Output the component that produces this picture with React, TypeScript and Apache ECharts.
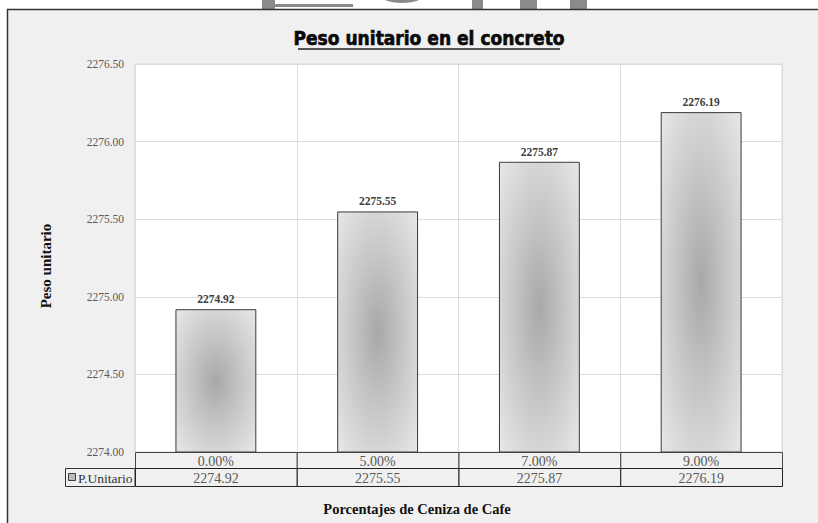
import React, { useEffect, useRef } from "react";
import * as echarts from "echarts";

const categories = ["0.00%", "5.00%", "7.00%", "9.00%"];
const pesoUnitario = [2274.92, 2275.55, 2275.87, 2276.19];
const seriesName = "P.Unitario";
const titleText = "Peso unitario en el concreto";
const yTitle = "Peso unitario";
const xTitle = "Porcentajes de Ceniza de Cafe";

const SERIF = "'Liberation Serif', 'DejaVu Serif', serif";

export default function App() {
  const ref = useRef<HTMLDivElement>(null);
  useEffect(() => {
    if (!ref.current) return;
    const chart = echarts.init(ref.current, null, { renderer: "svg" });
    const gridTop = 64;
    const gridBottom = 71;
    const H = 523;
    const baseOption: any = {
      animation: false,
      backgroundColor: "#ffffff",
      grid: {
        left: 135,
        right: 36,
        top: gridTop,
        bottom: gridBottom,
        show: true,
        backgroundColor: "#ffffff",
        borderColor: "#d9d9d9",
        borderWidth: 1,
      },
      xAxis: {
        type: "category",
        data: categories,
        axisLine: { show: false },
        axisTick: { show: false },
        axisLabel: { show: false },
        splitLine: { show: true, interval: 0, lineStyle: { color: "#dcdcdc", width: 1 } },
      },
      yAxis: {
        type: "value",
        min: 2274,
        max: 2276.5,
        interval: 0.5,
        axisLine: { show: false },
        axisTick: { show: false },
        axisLabel: {
          color: "#595959",
          fontFamily: SERIF,
          fontSize: 11.5,
          margin: 11,
          formatter: (v: number) => v.toFixed(2),
        },
        splitLine: { show: true, lineStyle: { color: "#dcdcdc", width: 1 } },
      },
      series: [
        {
          name: seriesName,
          type: "bar",
          data: pesoUnitario,
          barWidth: "50%",
          itemStyle: {
            color: {
              type: "radial",
              x: 0.5,
              y: 0.5,
              r: 0.66,
              colorStops: [
                { offset: 0, color: "#a8a8a8" },
                { offset: 0.45, color: "#c4c4c4" },
                { offset: 1, color: "#e4e4e4" },
              ],
            },
            borderColor: "#3a3a3a",
            borderWidth: 1,
          },
          label: {
            show: true,
            position: "top",
            distance: 4,
            fontFamily: SERIF,
            fontWeight: "bold",
            fontSize: 11.5,
            color: "#404040",
            formatter: (p: any) => Number(p.value).toFixed(2),
          },
        },
      ],
    };
    chart.setOption(baseOption);

    const centers = categories.map((c) => chart.convertToPixel({ xAxisIndex: 0 }, c) as number);
    const band = centers.length > 1 ? centers[1] - centers[0] : 160;

    const tableTop = H - gridBottom;
    const row1 = 16;
    const row2 = 18;
    const plotLeft = centers[0] - band / 2;
    const gray = "#8a8a8a";

    const graphics: any[] = [
      // watermark fragments above frame
      { type: "rect", z: -20, shape: { x: 262, y: 0, width: 13, height: 9 }, style: { fill: gray } },
      { type: "rect", z: -20, shape: { x: 275, y: 4, width: 78, height: 3 }, style: { fill: gray } },
      { type: "ellipse", z: -20, shape: { cx: 402, cy: -8, rx: 25, ry: 11 }, style: { fill: gray } },
      { type: "ellipse", z: -19, shape: { cx: 402, cy: -10, rx: 13, ry: 8 }, style: { fill: "#ffffff" } },
      { type: "rect", z: -20, shape: { x: 472, y: 0, width: 11, height: 9 }, style: { fill: gray } },
      { type: "rect", z: -20, shape: { x: 520, y: 0, width: 17, height: 9 }, style: { fill: gray } },
      { type: "rect", z: -20, shape: { x: 570, y: 0, width: 17, height: 9 }, style: { fill: gray } },
      // outer frame
      {
        type: "rect",
        z: -10,
        shape: { x: 7.5, y: 9.5, width: 830, height: 530 },
        style: { fill: "#f0f0f0", stroke: "#333333", lineWidth: 1.5 },
      },
      // title
      {
        type: "text",
        z: 10,
        x: 429,
        y: 38,
        style: {
          text: titleText,
          fill: "#0a0a0a",
          font: "900 19px 'DejaVu Sans Condensed', 'DejaVu Sans', sans-serif",
          align: "center",
          verticalAlign: "middle",
          stroke: "#0a0a0a",
          lineWidth: 0.6,
        },
      },
      {
        type: "line",
        z: 10,
        shape: { x1: 298, y1: 49, x2: 560, y2: 49 },
        style: { stroke: "#222222", lineWidth: 1.5 },
      },
      // axis titles
      {
        type: "text",
        z: 10,
        x: 46,
        y: 266,
        rotation: Math.PI / 2,
        style: {
          text: yTitle,
          fill: "#111111",
          font: `bold 15px ${SERIF}`,
          align: "center",
          verticalAlign: "middle",
        },
      },
      {
        type: "text",
        z: 10,
        x: 417,
        y: 509,
        style: {
          text: xTitle,
          fill: "#111111",
          font: `bold 14.5px ${SERIF}`,
          align: "center",
          verticalAlign: "middle",
        },
      },
      // legend cell of data table
      {
        type: "rect",
        z: 10,
        shape: { x: 65.5, y: tableTop + row1 + 0.5, width: plotLeft - 65.5, height: row2 },
        style: { fill: "none", stroke: "#333333", lineWidth: 1 },
      },
      {
        type: "rect",
        z: 11,
        shape: { x: 68.5, y: tableTop + row1 + 5.5, width: 7, height: 7 },
        style: { fill: "#bdbdbd", stroke: "#404040", lineWidth: 1 },
      },
      {
        type: "text",
        z: 11,
        x: 78,
        y: tableTop + row1 + row2 / 2 + 1,
        style: {
          text: seriesName,
          fill: "#333333",
          font: `13.5px ${SERIF}`,
          align: "left",
          verticalAlign: "middle",
        },
      },
    ];

    categories.forEach((c, i) => {
      const x0 = centers[i] - band / 2;
      graphics.push(
        {
          type: "rect",
          z: 10,
          shape: { x: x0 + 0.5, y: tableTop + 0.5, width: band, height: row1 },
          style: { fill: "#f0f0f0", stroke: "#444444", lineWidth: 1 },
        },
        {
          type: "rect",
          z: 10,
          shape: { x: x0 + 0.5, y: tableTop + row1 + 0.5, width: band, height: row2 },
          style: { fill: "#f0f0f0", stroke: "#222222", lineWidth: 1 },
        },
        {
          type: "text",
          z: 11,
          x: centers[i],
          y: tableTop + row1 / 2 + 1,
          style: {
            text: c,
            fill: "#595959",
            font: `14px ${SERIF}`,
            align: "center",
            verticalAlign: "middle",
          },
        },
        {
          type: "text",
          z: 11,
          x: centers[i],
          y: tableTop + row1 + row2 / 2 + 1,
          style: {
            text: pesoUnitario[i].toFixed(2),
            fill: "#595959",
            font: `14px ${SERIF}`,
            align: "center",
            verticalAlign: "middle",
          },
        }
      );
    });

    chart.setOption({ graphic: graphics });
    return () => chart.dispose();
  }, []);

  return (
    <div
      ref={ref}
      style={{ position: "fixed", left: 0, top: 0, width: 818, height: 523 }}
    />
  );
}
